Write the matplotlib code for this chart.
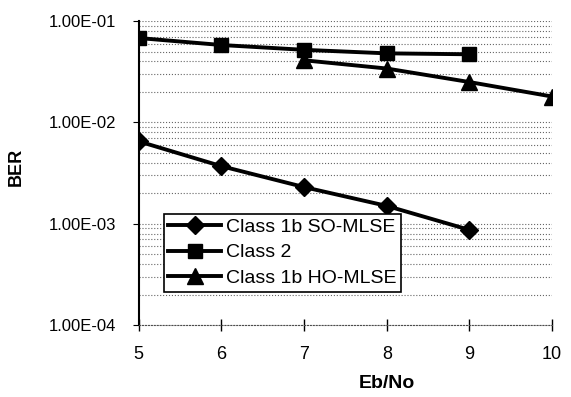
import matplotlib
matplotlib.use("Agg")
import matplotlib.pyplot as plt
from matplotlib.ticker import LogLocator, FixedLocator, FuncFormatter

plt.rcParams["font.family"] = ["Liberation Sans", "DejaVu Sans"]

# values
ebno_so = [5, 6, 7, 8, 9]
ber_so = [6.5e-3, 3.7e-3, 2.3e-3, 1.5e-3, 8.7e-4]
ebno_c2 = [5, 6, 7, 8, 9]
ber_c2 = [6.8e-2, 5.8e-2, 5.2e-2, 4.8e-2, 4.7e-2]
ebno_ho = [7, 8, 9, 10]
ber_ho = [4.1e-2, 3.4e-2, 2.5e-2, 1.8e-2]
x_ticks = [5, 6, 7, 8, 9, 10]

fig = plt.figure(figsize=(5.71, 3.97), dpi=100)
ax = fig.add_axes([0.243, 0.181, 0.724, 0.766])

ax.semilogy(ebno_so, ber_so, color="black", lw=2.8, marker="D", ms=9,
            label="Class 1b SO-MLSE")
ax.semilogy(ebno_c2, ber_c2, color="black", lw=2.8, marker="s", ms=10,
            label="Class 2")
ax.semilogy(ebno_ho, ber_ho, color="black", lw=2.8, marker="^", ms=11,
            label="Class 1b HO-MLSE")

ax.set_xlim(5, 10)
ax.set_ylim(1e-4, 1e-1)
ax.xaxis.set_major_locator(FixedLocator(x_ticks))
ax.yaxis.set_major_locator(LogLocator(base=10, numticks=10))
ax.yaxis.set_minor_locator(LogLocator(base=10, subs=range(2, 10), numticks=10))
ax.yaxis.set_major_formatter(FuncFormatter(lambda v, p: "%.2E" % v))
ax.yaxis.set_minor_formatter(FuncFormatter(lambda v, p: ""))

ax.grid(axis="y", which="both", color="0.4", ls=":", lw=0.8)

for s in ("top", "right"):
    ax.spines[s].set_visible(False)
ax.spines["left"].set_linewidth(1.5)
ax.spines["bottom"].set_linestyle(":")
ax.spines["bottom"].set_color("0.3")

ax.tick_params(axis="x", direction="inout", length=8, width=1, labelsize=13, pad=11)
ax.tick_params(axis="y", which="major", direction="out", length=4, labelsize=12, pad=12)
ax.tick_params(axis="y", which="minor", length=0)

ax.set_xlabel("Eb/No", fontsize=14, fontweight="bold")
ax.xaxis.set_label_coords(0.60, -0.165)
ax.set_ylabel("BER", fontsize=13, fontweight="bold")
ax.yaxis.set_label_coords(-0.276, 0.52)

leg = ax.legend(loc="lower left", bbox_to_anchor=(0.06, 0.11), fontsize=14,
                frameon=True, fancybox=False, handlelength=2.7,
                borderpad=0.25, labelspacing=0.4, handletextpad=0.25,
                borderaxespad=0)
leg.get_frame().set_edgecolor("black")
leg.get_frame().set_linewidth(1.2)
leg.get_frame().set_alpha(1)

fig.savefig("out.png", dpi=100)
